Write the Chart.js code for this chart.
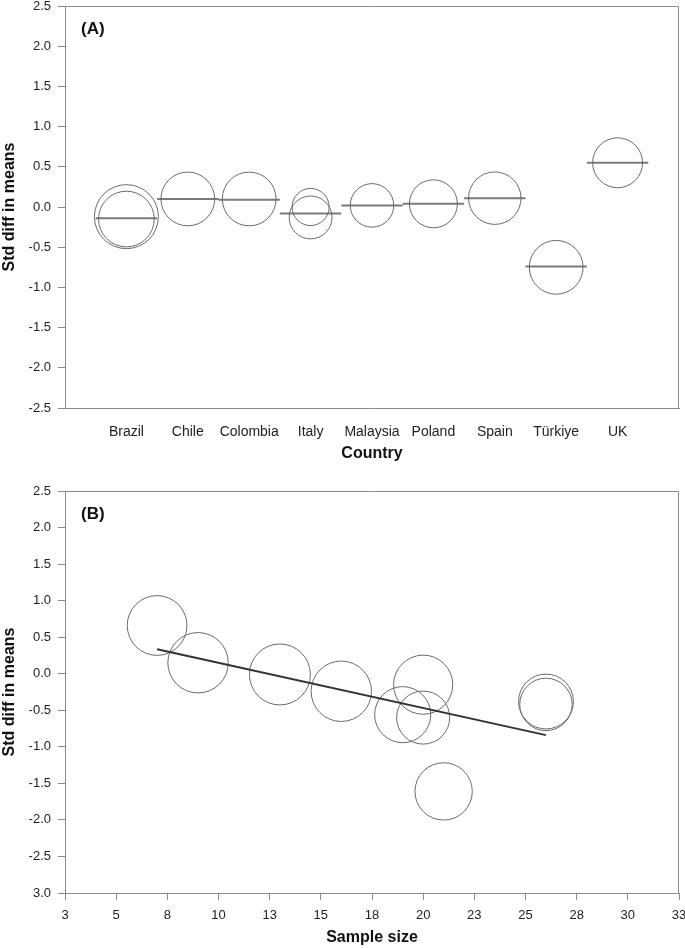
<!DOCTYPE html>
<html>
<head>
<meta charset="utf-8">
<script src="https://cdn.jsdelivr.net/npm/chart.js@4.4.1/dist/chart.umd.min.js"></script>
<style>
  html, body { margin: 0; padding: 0; background: #fff; }
  #wrap { position: relative; width: 685px; height: 948px; overflow: hidden; }
  canvas { position: absolute; left: 0; }
  #chartA { top: 0; }
  #chartB { top: 470px; }
</style>
</head>
<body>
<div id="wrap">
  <canvas id="chartA" width="685" height="470"></canvas>
  <canvas id="chartB" width="685" height="478"></canvas>
</div>
<script>
// --- Panel A: effect size by country
const countries = ["Brazil", "Chile", "Colombia", "Italy", "Malaysia", "Poland", "Spain", "Türkiye", "UK"];
const countryMeans = [-0.14, 0.10, 0.09, -0.08, 0.02, 0.04, 0.11, -0.74, 0.55];

// one entry per study (circle)
const studyCountryA = ["Brazil", "Brazil", "Chile", "Colombia", "Italy", "Italy", "Malaysia", "Poland", "Spain", "Türkiye", "UK"];
const studyEffectA  = [-0.12, -0.15, 0.10, 0.10, 0.00, -0.13, 0.02, 0.04, 0.11, -0.75, 0.55];
const studyWeightA  = [1.00, 0.87, 0.84, 0.84, 0.58, 0.67, 0.68, 0.75, 0.82, 0.84, 0.78];

// --- Panel B: effect size vs sample size
const sampleSize    = [7, 9, 13, 16, 20, 19, 20, 21, 26, 26];
const studyEffectB  = [0.66, 0.15, -0.01, -0.24, -0.15, -0.56, -0.60, -1.61, -0.38, -0.42];
const studyWeightB  = [0.98, 0.99, 1.00, 0.99, 0.97, 0.92, 0.87, 0.94, 0.90, 0.86];
const fitX = [7, 26];
const fitY = [0.335, -0.84];

const xTickLabelsB = ["3", "5", "8", "10", "13", "15", "18", "20", "23", "25", "28", "30", "33"];
const yTickLabelsB = ["3.0", "-2.5", "-2.0", "-1.5", "-1.0", "-0.5", "0.0", "0.5", "1.0", "1.5", "2.0", "2.5"];

const AXIS = "#8a8a8a";
const CIRCLE = "#6a6a6a";
const MEAN = "#7a7a7a";
const FIT = "#333333";
const FONT = "'Liberation Sans', Arial, Helvetica, sans-serif";

Chart.defaults.font.family = FONT;
Chart.defaults.color = "#222";
Chart.defaults.animation = false;

// bubbles must not shrink the plot box (the reference keeps a fixed frame)
Chart.BubbleController.prototype.getMaxOverflow = () => 0;

// top + right edges of the plot box and the (A)/(B) tag
const framePlugin = {
  id: "frame",
  afterDraw(chart, args, opts) {
    const { ctx, chartArea: a } = chart;
    ctx.save();
    ctx.strokeStyle = AXIS;
    ctx.lineWidth = 1;
    ctx.beginPath();
    const t = Math.round(a.top) + 0.5, r = Math.round(a.right) - 0.5;
    ctx.moveTo(a.left, t);
    ctx.lineTo(r, t);
    ctx.lineTo(r, a.bottom);
    ctx.stroke();
    ctx.fillStyle = "#111";
    ctx.font = "bold 17px " + FONT;
    ctx.textBaseline = "middle";
    ctx.fillText(opts.tag, a.left + 16, a.top + 23);
    ctx.restore();
  },
};

function fixWidth(w) {
  return (s) => { s.width = w; s.paddingTop = 0; s.paddingBottom = 0; };
}
function fixHeight(h) {
  return (s) => { s.height = h; s.paddingLeft = 0; s.paddingRight = 0; };
}

const yTitle = {
  display: true, text: "Std diff in means", color: "#111",
  font: { size: 16, weight: "bold" }, padding: { top: 0, bottom: 0 },
};

// --- Panel A
const R_A = 32;
const bubblesA = studyEffectA.map((y, i) => ({
  x: countries.indexOf(studyCountryA[i]) + 1,
  y,
  r: R_A * studyWeightA[i],
}));
const meanSegs = [];
countryMeans.forEach((m, i) => {
  meanSegs.push({ x: i + 0.5, y: m }, { x: i + 1.5, y: m }, { x: i + 1.5, y: null });
});

new Chart(document.getElementById("chartA"), {
  type: "bubble",
  data: {
    datasets: [
      {
        type: "line",
        data: meanSegs,
        borderColor: MEAN,
        borderWidth: 2,
        pointRadius: 0,
        spanGaps: false,
        order: 2,
      },
      {
        data: bubblesA,
        borderColor: CIRCLE,
        backgroundColor: "rgba(0,0,0,0)",
        borderWidth: 1,
        order: 1,
      },
    ],
  },
  options: {
    responsive: false,
    devicePixelRatio: 1,
    events: [],
    layout: { padding: { top: 6, right: 6, bottom: 0, left: 0 } },
    plugins: { legend: { display: false }, tooltip: { enabled: false }, frame: { tag: "(A)" } },
    scales: {
      x: {
        type: "linear", min: 0, max: 10,
        afterBuildTicks: (s) => { s.ticks = countries.map((c, i) => ({ value: i + 1 })); },
        afterFit: fixHeight(62),
        grid: { display: false, drawTicks: false },
        border: { display: true, color: AXIS, width: 1 },
        ticks: {
          autoSkip: false, maxRotation: 0, minRotation: 0, padding: 16,
          font: { size: 14 }, color: "#222",
          callback: (v) => countries[v - 1] || "",
        },
        title: {
          display: true, text: "Country", color: "#111",
          font: { size: 16, weight: "bold" }, padding: { top: 0, bottom: 7 },
        },
      },
      y: {
        min: -2.5, max: 2.5,
        afterFit: fixWidth(65),
        grid: { drawOnChartArea: false, drawTicks: true, tickLength: 7, color: AXIS },
        border: { display: true, color: AXIS, width: 1 },
        ticks: {
          stepSize: 0.5, padding: 7, font: { size: 13 }, color: "#222",
          callback: (v) => (Math.abs(v) < 1e-9 ? 0 : v).toFixed(1),
        },
        title: yTitle,
      },
    },
  },
  plugins: [framePlugin],
});

// --- Panel B
const R_B = 30.5;
const bubblesB = studyEffectB.map((y, i) => ({ x: sampleSize[i], y, r: R_B * studyWeightB[i] }));
const fitLine = fitX.map((x, i) => ({ x, y: fitY[i] }));

new Chart(document.getElementById("chartB"), {
  type: "bubble",
  data: {
    datasets: [
      {
        type: "line",
        data: fitLine,
        borderColor: FIT,
        borderWidth: 2,
        pointRadius: 0,
        order: 1,
      },
      {
        data: bubblesB,
        borderColor: CIRCLE,
        backgroundColor: "rgba(0,0,0,0)",
        borderWidth: 1,
        order: 2,
      },
    ],
  },
  options: {
    responsive: false,
    devicePixelRatio: 1,
    events: [],
    layout: { padding: { top: 21, right: 6, bottom: 0, left: 0 } },
    plugins: { legend: { display: false }, tooltip: { enabled: false }, frame: { tag: "(B)" } },
    scales: {
      x: {
        type: "linear", min: 2.5, max: 32.5,
        afterFit: fixHeight(55),
        grid: { drawOnChartArea: false, drawTicks: true, tickLength: 7, color: AXIS },
        border: { display: true, color: AXIS, width: 1 },
        ticks: {
          stepSize: 2.5, autoSkip: false, maxRotation: 0, minRotation: 0, padding: 8,
          font: { size: 13 }, color: "#222",
          callback: (v, i) => xTickLabelsB[i],
        },
        title: {
          display: true, text: "Sample size", color: "#111",
          font: { size: 16, weight: "bold" }, padding: { top: 0, bottom: 0.5 },
        },
      },
      y: {
        min: -3, max: 2.5,
        afterFit: fixWidth(65),
        grid: { drawOnChartArea: false, drawTicks: true, tickLength: 7, color: AXIS },
        border: { display: true, color: AXIS, width: 1 },
        ticks: {
          stepSize: 0.5, padding: 7, font: { size: 13 }, color: "#222",
          callback: (v, i) => yTickLabelsB[i],
        },
        title: yTitle,
      },
    },
  },
  plugins: [framePlugin],
});
</script>
</body>
</html>
